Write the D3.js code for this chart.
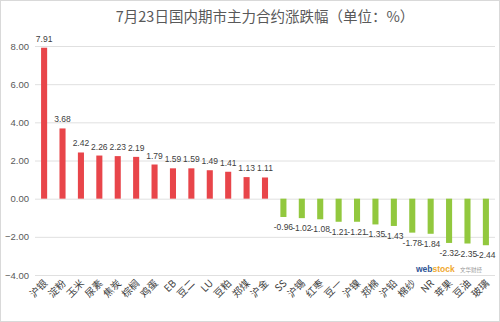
<!DOCTYPE html>
<html>
<head>
<meta charset="utf-8">
<script src="https://cdn.jsdelivr.net/npm/d3@7"></script>
<style>
  html, body { margin: 0; padding: 0; background: #fff; }
  svg { display: block; font-family: "Microsoft YaHei", "Noto Sans CJK SC", sans-serif; }
</style>
</head>
<body>
<svg id="chart" width="500" height="322"></svg>
<script>
const categories = ["沪银","淀粉","玉米","尿素","焦炭","棕榈","鸡蛋","EB","豆二","LU","豆粕","郑煤","沪金",
                    "SS","沪锡","红枣","豆一","沪镍","郑棉","沪铅","棉纱","NR","苹果","豆油","玻璃"];
const changes = [7.91,3.68,2.42,2.26,2.23,2.19,1.79,1.59,1.59,1.49,1.41,1.13,1.11,
                 -0.96,-1.02,-1.08,-1.21,-1.21,-1.35,-1.43,-1.78,-1.84,-2.32,-2.35,-2.44];
const yTicks = [8,6,4,2,0,-2,-4];
const title = "7月23日国内期市主力合约涨跌幅（单位：%）";

const svg = d3.select("#chart");
const W = 500, H = 322;

// light frame around the chart area
svg.append("rect").attr("x", 0.5).attr("y", 0.5).attr("width", W - 1).attr("height", H - 1)
  .attr("fill", "#fff").attr("stroke", "#d9d9d9");

const x = d3.scaleBand().domain(categories).range([35, 495]).paddingInner(0.67).paddingOuter(0.33);
const y = d3.scaleLinear().domain([-4, 8]).range([275, 46]);

svg.append("text").attr("x", 265).attr("y", 22).attr("text-anchor", "middle")
  .attr("font-size", 14.5).attr("fill", "#595959").text(title);

// y axis with horizontal gridlines
const yAxis = svg.append("g").attr("transform", "translate(35,0)")
  .call(d3.axisLeft(y).tickValues(yTicks).tickFormat(d3.format(".2f")).tickSize(-460).tickPadding(6));
yAxis.select(".domain").remove();
yAxis.selectAll(".tick line").attr("stroke", "#e0e0e0");
yAxis.selectAll(".tick text").attr("fill", "#595959").attr("font-size", 9.5)
  .attr("font-family", "Liberation Sans, Arial, sans-serif");

svg.append("g").selectAll("rect").data(changes).join("rect")
  .attr("x", (d, i) => x(categories[i]))
  .attr("width", x.bandwidth())
  .attr("y", d => y(Math.max(0, d)))
  .attr("height", d => Math.abs(y(d) - y(0)))
  .attr("fill", d => d >= 0 ? "#e8454a" : "#92c83e");

// value labels
svg.append("g").selectAll("text").data(changes).join("text")
  .attr("x", (d, i) => x(categories[i]) + x.bandwidth() / 2)
  .attr("y", d => d >= 0 ? y(d) - 6 : y(d) + 13)
  .attr("text-anchor", "middle")
  .attr("font-size", 8.5).attr("fill", "#404040")
  .attr("font-family", "Liberation Sans, Arial, sans-serif")
  .text(d => d.toFixed(2));

// category labels rotated 45°
svg.append("g").selectAll("text").data(categories).join("text")
  .attr("transform", d => `translate(${x(d) + x.bandwidth() / 2 + 4},${284}) rotate(-45)`)
  .attr("text-anchor", "end")
  .attr("font-size", 10).attr("fill", "#404040")
  .text(d => d);

// source mark
const mark = svg.append("text").attr("x", 416).attr("y", 272).attr("font-size", 8.5)
  .attr("font-family", "Liberation Sans, Arial, sans-serif").attr("font-weight", "bold");
mark.append("tspan").attr("fill", "#2f5597").text("web");
mark.append("tspan").attr("fill", "#f0a830").text("stock");
svg.append("text").attr("x", 460).attr("y", 272).attr("font-size", 5.5).attr("fill", "#999")
  .text("文华财经");
</script>
</body>
</html>
